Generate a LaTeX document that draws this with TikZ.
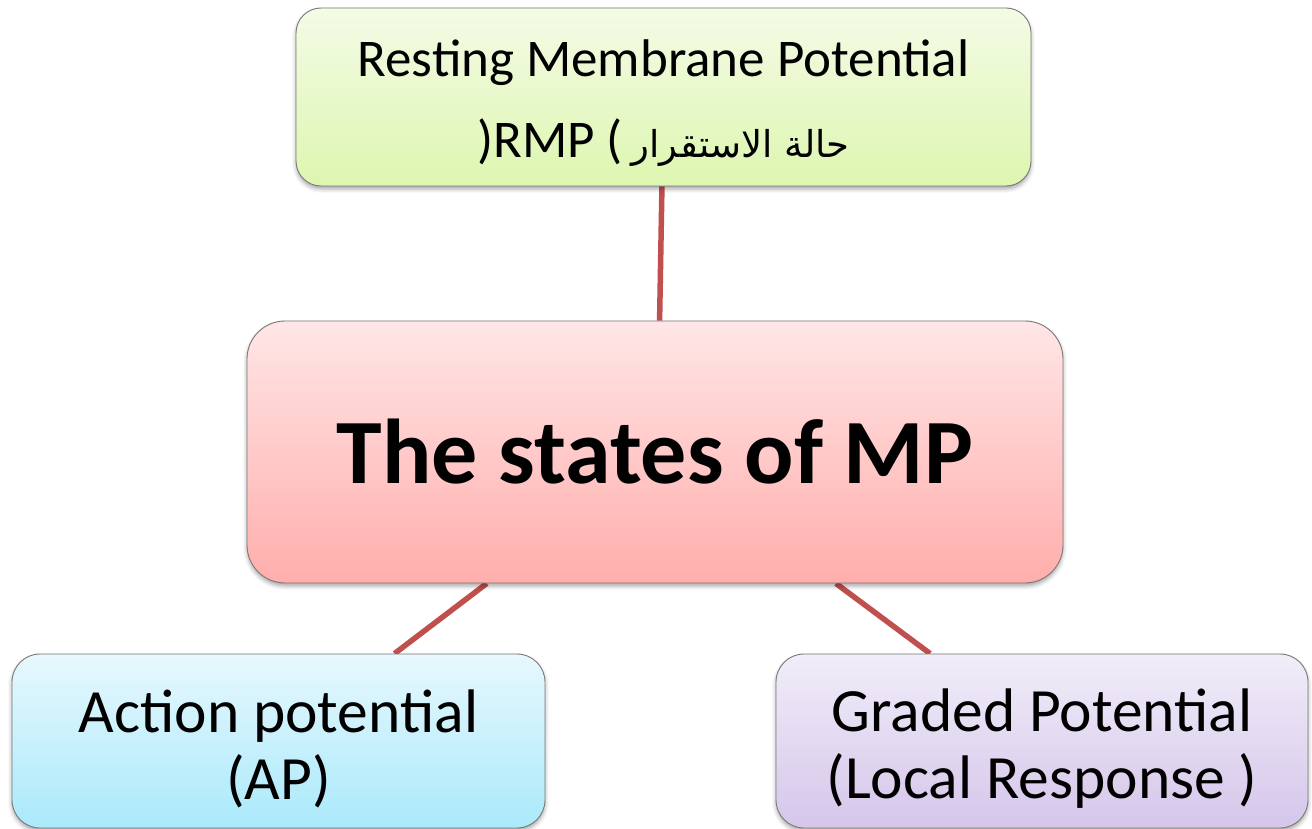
\documentclass[tikz,border=0pt]{standalone}
\usepackage{fontspec}
\setmainfont{Carlito}
\newfontfamily\arabicfont[Script=Arabic]{DejaVu Sans}
\TeXXeTstate=1
\usetikzlibrary{shadows.blur,backgrounds}
\definecolor{linkred}{RGB}{192,80,77}
\definecolor{greenTop}{RGB}{244,251,230}
\definecolor{greenBot}{RGB}{221,246,176}
\definecolor{pinkTop}{RGB}{255,230,230}
\definecolor{pinkBot}{RGB}{255,174,172}
\definecolor{blueTop}{RGB}{231,248,253}
\definecolor{blueBot}{RGB}{170,233,251}
\definecolor{purpTop}{RGB}{241,237,249}
\definecolor{purpBot}{RGB}{213,198,234}
\definecolor{edgegray}{RGB}{120,120,120}
\newcommand{\topstrut}[1]{\rule{0pt}{#1}}
\newcommand{\botstrut}[1]{\rule[-#1]{0pt}{#1}}
\tikzset{
  box/.style={draw=edgegray, line width=0.9pt, align=center, inner sep=0pt,
    blur shadow={shadow xshift=0pt, shadow yshift=-3pt, shadow blur radius=4pt, shadow opacity=35}},
  link/.style={draw=linkred, line width=5.5pt}
}
\begin{document}
\begin{tikzpicture}[x=1pt,y=-1pt]
\useasboundingbox (0,0) rectangle (1312,829);
\node[box, rounded corners=25pt, top color=greenTop, bottom color=greenBot,
  minimum width=735pt, minimum height=178pt,
  font=\fontsize{53}{81}\selectfont] (rmp) at (663.5,97)
  {\topstrut{52pt}Resting Membrane Potential\\
   )RMP (\,{\arabicfont\fontsize{37}{40}\selectfont\beginR حالة الاستقرار\endR}\botstrut{11pt}};
\node[box, rounded corners=38pt, top color=pinkTop, bottom color=pinkBot,
  minimum width=816pt, minimum height=262pt,
  font=\fontsize{92}{110}\selectfont\bfseries] (mp) at (655,452)
  {The states of MP};
\node[box, rounded corners=28pt, top color=blueTop, bottom color=blueBot,
  minimum width=533pt, minimum height=174pt,
  font=\fontsize{61.5}{67}\selectfont] (ap) at (278.5,741)
  {\topstrut{58pt}Action potential\\(AP)\botstrut{7pt}};
\node[box, rounded corners=28pt, top color=purpTop, bottom color=purpBot,
  minimum width=532pt, minimum height=174pt,
  font=\fontsize{61.5}{67}\selectfont] (gp) at (1042,741)
  {\topstrut{58pt}Graded Potential\\(Local Response )\botstrut{7pt}};
\begin{scope}[on background layer]
\draw[link] (rmp.-91.6) -- (mp.88.7);
\draw[link] (mp.-142.4) -- (ap.37.2);
\draw[link] (mp.-36.05) -- (gp.142.7);
\end{scope}
\end{tikzpicture}
\end{document}
